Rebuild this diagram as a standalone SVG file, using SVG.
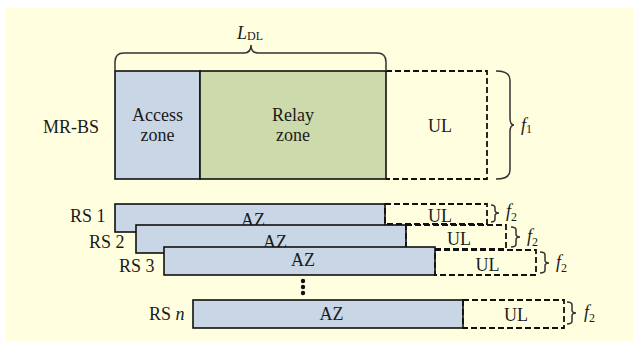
<svg xmlns="http://www.w3.org/2000/svg" width="633" height="341" viewBox="0 0 633 341" font-family="'Liberation Serif', 'Times New Roman', Times, serif">
<style>
text{font-family:'Liberation Serif','Times New Roman',Times,serif;font-size:18px;fill:#1a1a1a}
.c{text-anchor:middle}
.i{font-style:italic}
.sub{font-size:12px;font-style:normal}
.az{fill:#c9d6e6;stroke:#111;stroke-width:1.6}
.rz{fill:#cddaab;stroke:#111;stroke-width:1.6}
.ul{fill:none;stroke:#111;stroke-width:1.8;stroke-dasharray:6 3}
.br{fill:none;stroke:#333;stroke-width:1.5}
</style>
<rect x="6" y="8" width="627" height="333" fill="#ffffe0"/>

<g id="mr-bs">
  <text x="71" y="133" class="c">MR-BS</text>
  <rect x="115" y="71" width="85" height="108" class="az"/>
  <text x="157.5" y="121" class="c">Access</text>
  <text x="157.5" y="141" class="c">zone</text>
  <rect x="200" y="71" width="186" height="108" class="rz"/>
  <text x="293" y="121" class="c">Relay</text>
  <text x="293" y="141" class="c">zone</text>
  <path d="M386,71 H487 V179 H386" class="ul"/>
  <text x="440" y="132" class="c">UL</text>
  <text x="237" y="39" class="i">L<tspan class="sub" dy="1">DL</tspan></text>
  <text x="521" y="131" class="i">f<tspan class="sub" dy="2">1</tspan></text>
</g>

<g id="rs1">
  <text x="70" y="222">RS 1</text>
  <rect x="115" y="204" width="270" height="28" class="az"/>
  <text x="253" y="226" class="c">AZ</text>
  <rect x="385" y="204" width="102" height="20" class="ul"/>
  <text x="440" y="222" class="c">UL</text>
  <text x="506" y="217" class="i">f<tspan class="sub" dy="4">2</tspan></text>
</g>

<g id="rs2">
  <text x="89" y="248">RS 2</text>
  <rect x="136" y="225" width="270" height="28" class="az"/>
  <text x="275" y="248" class="c">AZ</text>
  <rect x="406" y="225" width="100" height="24" class="ul"/>
  <text x="459" y="245" class="c">UL</text>
  <text x="527" y="242" class="i">f<tspan class="sub" dy="4">2</tspan></text>
</g>

<g id="rs3">
  <text x="119" y="272">RS 3</text>
  <rect x="164" y="247" width="271" height="28" class="az"/>
  <text x="303" y="266" class="c">AZ</text>
  <rect x="435" y="250" width="101" height="25" class="ul"/>
  <text x="487.5" y="271" class="c">UL</text>
  <text x="556" y="268" class="i">f<tspan class="sub" dy="4">2</tspan></text>
</g>

<g id="dots" fill="#111">
  <circle cx="303" cy="281" r="2.2"/>
  <circle cx="303" cy="287" r="2.2"/>
  <circle cx="303" cy="293" r="2.2"/>
</g>

<g id="rsn">
  <text x="149" y="320">RS <tspan class="i">n</tspan></text>
  <rect x="193" y="300" width="270" height="28" class="az"/>
  <text x="331.5" y="320" class="c">AZ</text>
  <rect x="463" y="300" width="101" height="28" class="ul"/>
  <text x="516" y="321" class="c">UL</text>
  <text x="584" y="318" class="i">f<tspan class="sub" dy="4">2</tspan></text>
</g>

<g id="connectors">
  <path d="M115,71 V62 Q115,53 124,53 H244 Q251,53 251,45 Q251,53 258,53 H377 Q386,53 386,62 V71" class="br"/>
  <path d="M496,71 Q510,71 510,80 V118 Q510,125 514,125 Q510,125 510,132 V170 Q510,179 496,179" class="br"/>
  <path d="M491,205 Q495,205 495,208 V210 Q495,213 499,213 Q495,213 495,216 V219 Q495,222 491,222" class="br"/>
  <path d="M511,227 Q516,227 516,230 V234 Q516,237 520,237 Q516,237 516,240 V244 Q516,247 511,247" class="br"/>
  <path d="M540,252 Q545,252 545,255 V260 Q545,263 549,263 Q545,263 545,266 V270 Q545,273 540,273" class="br"/>
  <path d="M567,302 Q572,302 572,305 V310 Q572,313 576,313 Q572,313 572,316 V321 Q572,324 567,324" class="br"/>
</g>
</svg>
